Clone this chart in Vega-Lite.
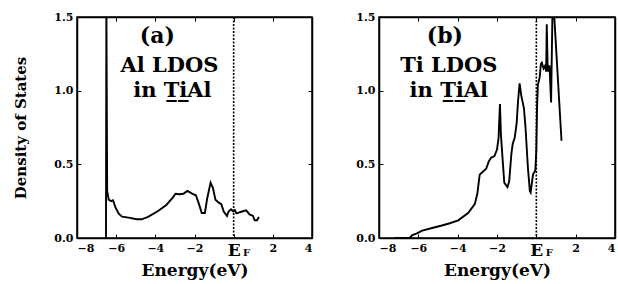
{
  "$schema": "https://vega.github.io/schema/vega-lite/v6.json",
  "background": "white",
  "padding": {"left": 13, "top": 10, "right": 0, "bottom": 4},
  "spacing": 41,
  "config": {
    "font": "DejaVu Serif",
    "view": {"stroke": "black", "strokeWidth": 1.5},
    "axis": {
      "grid": false,
      "domainColor": "black",
      "domainWidth": 1.5,
      "tickColor": "black",
      "tickWidth": 1,
      "tickSize": -4,
      "labelColor": "black",
      "labelFont": "DejaVu Serif",
      "labelFontWeight": "bold",
      "labelFontSize": 11,
      "titleColor": "black",
      "titleFont": "DejaVu Serif",
      "titleFontWeight": "bold"
    }
  },
  "datasets": {
    "one": [{}],
    "al": [
      {"e": -6.52, "v": 0}, {"e": -6.5, "v": 1.6}, {"e": -6.46, "v": 0.32}, {"e": -6.38, "v": 0.26},
      {"e": -6.26, "v": 0.25}, {"e": -6.16, "v": 0.256}, {"e": -6.04, "v": 0.21}, {"e": -5.87, "v": 0.165},
      {"e": -5.7, "v": 0.145}, {"e": -5.37, "v": 0.138}, {"e": -4.95, "v": 0.127}, {"e": -4.7, "v": 0.127},
      {"e": -4.37, "v": 0.143}, {"e": -3.86, "v": 0.183}, {"e": -3.44, "v": 0.224}, {"e": -3.11, "v": 0.274},
      {"e": -2.97, "v": 0.3}, {"e": -2.77, "v": 0.297}, {"e": -2.57, "v": 0.3}, {"e": -2.36, "v": 0.32},
      {"e": -2.1, "v": 0.3}, {"e": -1.93, "v": 0.29}, {"e": -1.77, "v": 0.23}, {"e": -1.63, "v": 0.17},
      {"e": -1.47, "v": 0.17}, {"e": -1.35, "v": 0.27}, {"e": -1.18, "v": 0.375}, {"e": -1.06, "v": 0.34},
      {"e": -0.93, "v": 0.26}, {"e": -0.76, "v": 0.24}, {"e": -0.63, "v": 0.23}, {"e": -0.51, "v": 0.18},
      {"e": -0.34, "v": 0.15}, {"e": -0.26, "v": 0.18}, {"e": -0.13, "v": 0.195}, {"e": -0.02, "v": 0.18},
      {"e": 0.06, "v": 0.19}, {"e": 0.14, "v": 0.167}, {"e": 0.39, "v": 0.178}, {"e": 0.64, "v": 0.188},
      {"e": 0.81, "v": 0.16}, {"e": 0.99, "v": 0.15}, {"e": 1.07, "v": 0.12}, {"e": 1.19, "v": 0.12},
      {"e": 1.29, "v": 0.143}
    ],
    "ti": [
      {"e": -7.2, "v": 0}, {"e": -6.45, "v": 0}, {"e": -6.3, "v": 0.02}, {"e": -6.1, "v": 0.03},
      {"e": -5.8, "v": 0.05}, {"e": -5.3, "v": 0.068}, {"e": -4.8, "v": 0.085}, {"e": -4.4, "v": 0.1},
      {"e": -3.97, "v": 0.12}, {"e": -3.47, "v": 0.17}, {"e": -3.13, "v": 0.23}, {"e": -3.0, "v": 0.3},
      {"e": -2.88, "v": 0.43}, {"e": -2.72, "v": 0.45}, {"e": -2.55, "v": 0.47}, {"e": -2.42, "v": 0.52},
      {"e": -2.3, "v": 0.545}, {"e": -2.13, "v": 0.556}, {"e": -2.0, "v": 0.6}, {"e": -1.92, "v": 0.68},
      {"e": -1.85, "v": 0.91}, {"e": -1.8, "v": 0.7}, {"e": -1.72, "v": 0.545}, {"e": -1.63, "v": 0.375},
      {"e": -1.47, "v": 0.345}, {"e": -1.38, "v": 0.385}, {"e": -1.27, "v": 0.57}, {"e": -1.2, "v": 0.64},
      {"e": -1.1, "v": 0.68}, {"e": -1.0, "v": 0.78}, {"e": -0.93, "v": 0.93}, {"e": -0.85, "v": 1.05},
      {"e": -0.77, "v": 0.97}, {"e": -0.63, "v": 0.88}, {"e": -0.55, "v": 0.75}, {"e": -0.43, "v": 0.48},
      {"e": -0.33, "v": 0.32}, {"e": -0.29, "v": 0.31}, {"e": -0.17, "v": 0.43}, {"e": -0.05, "v": 0.46},
      {"e": 0.0, "v": 0.6}, {"e": 0.04, "v": 0.9}, {"e": 0.08, "v": 1.04}, {"e": 0.17, "v": 1.09},
      {"e": 0.23, "v": 1.18}, {"e": 0.28, "v": 1.19}, {"e": 0.37, "v": 1.15}, {"e": 0.45, "v": 1.17},
      {"e": 0.5, "v": 1.13}, {"e": 0.53, "v": 1.45}, {"e": 0.58, "v": 1.13}, {"e": 0.67, "v": 1.17},
      {"e": 0.75, "v": 0.92}, {"e": 0.83, "v": 1.62}, {"e": 0.86, "v": 1.62}, {"e": 1.28, "v": 0.66}
    ]
  },
  "hconcat": [
    {
      "width": 235,
      "height": 221,
      "resolve": {"axis": {"x": "independent", "y": "independent"}},
      "layer": [
        {
          "data": {"name": "al"},
          "mark": {"type": "line", "clip": true, "color": "black", "strokeWidth": 1.9},
          "encoding": {
            "x": {"field": "e", "type": "quantitative", "scale": {"domain": [-8, 4], "nice": false},
                  "axis": {"values": [-8, -6, -4, -2, 0, 2, 4], "title": "Energy(eV)", "titleFontSize": 17, "titlePadding": 4, "labelPadding": 8,
                           "labelExpr": "datum.value == 0 ? 'E' : datum.label",
                           "labelFontSize": {"condition": {"test": "datum.value == 0", "value": 17}, "value": 11}}},
            "y": {"field": "v", "type": "quantitative", "scale": {"domain": [0, 1.5], "nice": false},
                  "axis": {"values": [0, 0.5, 1, 1.5], "format": ".1f", "title": "Density of States", "titleFontSize": 15, "titlePadding": 25, "labelPadding": 8}}
          }
        },
        {
          "data": {"name": "one"},
          "mark": {"type": "rule", "strokeDash": [2, 1.5], "strokeWidth": 1.6, "color": "black"},
          "encoding": {
            "x": {"datum": 0, "type": "quantitative", "axis": {"orient": "top", "labels": false, "title": null, "values": [-8, -6, -4, -2, 0, 2, 4]}}
          }
        },
        {
          "data": {"name": "one"},
          "mark": {"type": "text", "text": "F", "fontSize": 10, "fontWeight": "bold", "font": "DejaVu Serif", "clip": false},
          "encoding": {
            "x": {"datum": 0.66, "type": "quantitative", "axis": null},
            "y": {"datum": -0.1, "type": "quantitative", "axis": {"orient": "right", "labels": false, "title": null, "values": [0, 0.5, 1, 1.5]}}
          }
        },
        {
          "data": {"name": "one"},
          "mark": {"type": "text", "text": "(a)", "fontSize": 22, "fontWeight": "bold", "font": "DejaVu Serif"},
          "encoding": {"x": {"datum": -3.9, "type": "quantitative", "axis": null}, "y": {"datum": 1.37, "type": "quantitative", "axis": null}}
        },
        {
          "data": {"name": "one"},
          "mark": {"type": "text", "text": "Al LDOS", "fontSize": 21, "fontWeight": "bold", "font": "DejaVu Serif"},
          "encoding": {"x": {"datum": -3.28, "type": "quantitative", "axis": null}, "y": {"datum": 1.17, "type": "quantitative", "axis": null}}
        },
        {
          "data": {"name": "one"},
          "mark": {"type": "text", "text": "in T̲i̲Al", "fontSize": 21, "fontWeight": "bold", "font": "DejaVu Serif"},
          "encoding": {"x": {"datum": -3.13, "type": "quantitative", "axis": null}, "y": {"datum": 1.0, "type": "quantitative", "axis": null}}
        }
      ]
    },
    {
      "width": 236,
      "height": 221,
      "resolve": {"axis": {"x": "independent", "y": "independent"}},
      "layer": [
        {
          "data": {"name": "ti"},
          "mark": {"type": "line", "clip": true, "color": "black", "strokeWidth": 1.9},
          "encoding": {
            "x": {"field": "e", "type": "quantitative", "scale": {"domain": [-8, 4], "nice": false},
                  "axis": {"values": [-8, -6, -4, -2, 0, 2, 4], "title": "Energy(eV)", "titleFontSize": 17, "titlePadding": 4, "labelPadding": 8,
                           "labelExpr": "datum.value == 0 ? 'E' : datum.label",
                           "labelFontSize": {"condition": {"test": "datum.value == 0", "value": 17}, "value": 11}}},
            "y": {"field": "v", "type": "quantitative", "scale": {"domain": [0, 1.5], "nice": false},
                  "axis": {"values": [0, 0.5, 1, 1.5], "format": ".1f", "title": null, "labelPadding": 8}}
          }
        },
        {
          "data": {"name": "one"},
          "mark": {"type": "rule", "strokeDash": [2, 1.5], "strokeWidth": 1.6, "color": "black"},
          "encoding": {
            "x": {"datum": 0, "type": "quantitative", "axis": {"orient": "top", "labels": false, "title": null, "values": [-8, -6, -4, -2, 0, 2, 4]}}
          }
        },
        {
          "data": {"name": "one"},
          "mark": {"type": "text", "text": "F", "fontSize": 10, "fontWeight": "bold", "font": "DejaVu Serif", "clip": false},
          "encoding": {
            "x": {"datum": 0.66, "type": "quantitative", "axis": null},
            "y": {"datum": -0.1, "type": "quantitative", "axis": {"orient": "right", "labels": false, "title": null, "values": [0, 0.5, 1, 1.5]}}
          }
        },
        {
          "data": {"name": "one"},
          "mark": {"type": "text", "text": "(b)", "fontSize": 22, "fontWeight": "bold", "font": "DejaVu Serif"},
          "encoding": {"x": {"datum": -4.65, "type": "quantitative", "axis": null}, "y": {"datum": 1.37, "type": "quantitative", "axis": null}}
        },
        {
          "data": {"name": "one"},
          "mark": {"type": "text", "text": "Ti LDOS", "fontSize": 21, "fontWeight": "bold", "font": "DejaVu Serif"},
          "encoding": {"x": {"datum": -4.45, "type": "quantitative", "axis": null}, "y": {"datum": 1.17, "type": "quantitative", "axis": null}}
        },
        {
          "data": {"name": "one"},
          "mark": {"type": "text", "text": "in T̲i̲Al", "fontSize": 21, "fontWeight": "bold", "font": "DejaVu Serif"},
          "encoding": {"x": {"datum": -4.45, "type": "quantitative", "axis": null}, "y": {"datum": 1.0, "type": "quantitative", "axis": null}}
        }
      ]
    }
  ]
}
